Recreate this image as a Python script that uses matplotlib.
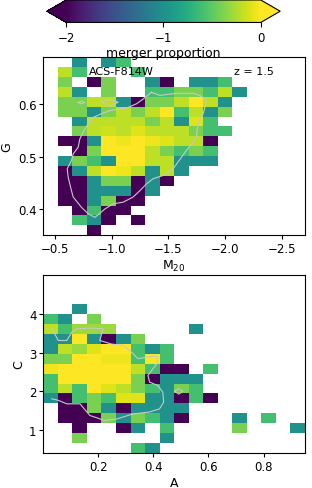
import numpy as np
import matplotlib
matplotlib.use("Agg")
import matplotlib.pyplot as plt

n = np.nan

# log10 merger proportion per cell, rows listed from top (high G / high C) to bottom
# top panel: G vs M20
m20_edges = np.linspace(-0.4, -2.7, 19)
g_edges = np.linspace(0.69, 0.35, 19)
gm20_vals = [
    [n, n, -1.0, n, -1.0, -0.6, n, n, n, n, n, n, n, n, n, n, n, n],
    [n, -0.2, -0.6, n, n, n, -0.6, n, n, n, n, n, n, n, n, n, n, n],
    [n, -0.4, n, -3, -0.4, n, n, -1.0, -3, n, -1.0, -1.0, -0.6, n, n, n, n, n],
    [n, -0.2, -1.0, n, -0.4, n, n, -0.6, -0.6, -0.4, -0.4, -0.6, -0.2, -1.0, n, n, n, n],
    [n, -0.4, -0.4, -0.2, -0.2, -1.0, -3, -0.4, -0.4, -0.2, 0.0, -0.2, -1.0, n, n, n, n, n],
    [n, -0.4, -0.4, -1.0, -0.4, -0.2, -0.4, -0.2, 0.0, -0.6, -0.2, -1.0, -0.4, n, n, n, n, n],
    [n, n, -1.0, -0.2, -0.2, -0.2, -0.2, -0.4, -0.2, -1.0, -0.1, -0.6, n, n, n, n, n, n],
    [n, n, -0.4, -0.2, -0.15, -0.2, -0.1, -0.2, -0.2, -0.2, -0.4, -0.6, -0.6, n, n, n, n, n],
    [n, -3, -3, -1.0, 0.0, -0.05, 0.0, -0.05, -0.1, -0.2, -0.2, -3, n, n, n, n, n, n],
    [n, n, -3, -0.4, 0.0, 0.0, 0.0, -0.2, -0.4, -0.6, -0.4, -0.6, n, n, n, n, n, n],
    [n, -1.0, -0.4, -0.6, -1.0, 0.0, 0.0, -0.2, -0.2, -1.0, -1.0, -1.0, n, n, n, n, n, n],
    [n, -3, -1.0, -0.2, 0.0, -0.05, -0.2, -1.0, -0.2, -1.0, n, n, n, n, n, n, n, n],
    [n, -3, -3, -1.0, -0.4, -0.4, -3, -1.0, -3, n, n, n, n, n, n, n, n, n],
    [n, -3, -3, -1.0, -1.0, -1.0, -3, -1.0, n, n, n, n, n, n, n, n, n, n],
    [n, -3, -3, -1.0, -0.4, -3, -3, n, n, n, n, n, n, n, n, n, n, n],
    [n, n, -3, -0.6, -3, -3, n, n, n, n, n, n, n, n, n, n, n, n],
    [n, n, -0.6, -1.0, -3, n, -3, n, n, n, n, n, n, n, n, n, n, n],
    [n, n, n, -3, n, n, n, n, n, n, n, n, n, n, n, n, n, n],
]

# bottom panel: C vs A
a_edges = np.linspace(0.0, 0.95, 19)
c_edges = np.linspace(5.0, 0.42, 19)
ca_vals = [
    [n] * 18,
    [n] * 18,
    [n] * 18,
    [n, n, -1.0, n, n, n, n, n, n, n, n, n, n, n, n, n, n, n],
    [-0.6, -1.0, n, -0.4, n, n, n, n, n, n, n, n, n, n, n, n, n, n],
    [-0.2, -0.6, -0.3, -0.3, -0.3, n, n, n, n, n, -1.0, n, n, n, n, n, n, n],
    [-1.0, -1.0, 0.0, -1.0, -3, -1.0, -0.4, n, n, n, n, n, n, n, n, n, n, n],
    [-1.0, -0.2, -0.3, -0.1, 0.0, 0.0, -0.6, -1.0, -0.6, n, n, n, n, n, n, n, n, n],
    [-0.4, -0.4, 0.0, 0.0, -0.05, -0.05, -0.6, 0.0, -0.6, n, n, n, n, n, n, n, n, n],
    [-0.05, 0.0, 0.0, 0.0, 0.0, 0.0, -0.2, -0.6, -3, -3, n, -0.6, n, n, n, n, n, n],
    [-0.6, 0.0, 0.0, 0.0, 0.0, 0.0, -0.4, -3, -1.0, -1.0, -1.0, n, n, n, n, n, n, n],
    [-0.6, -0.2, -0.6, 0.0, -0.1, -0.2, -0.4, -0.6, -1.0, -0.4, -0.6, n, n, n, n, n, n, n],
    [-1.0, -3, -0.6, -0.4, -0.6, -0.1, -0.1, -1.0, -1.0, -3, -0.6, -3, n, n, n, n, n, n],
    [n, -3, -3, -0.4, -1.0, -3, -1.0, -1.0, -1.0, -1.0, n, n, n, n, n, n, n, n],
    [n, -3, -3, -3, -0.4, -1.0, -0.4, -0.6, -1.0, -3, n, n, n, -1.0, n, -0.6, n, n],
    [n, n, -3, n, n, -3, -1.0, n, -0.6, n, n, n, n, -0.4, n, n, n, -1.0],
    [n, n, -0.4, n, n, n, n, n, -1.0, n, n, n, n, n, n, n, n, n],
    [n, n, n, n, n, n, -0.6, -1.0, n, n, n, n, n, n, n, n, n, n],
]

# density contours
gm20_cont_x = [-1.351, -1.425, -1.571, -1.718, -1.776, -1.835, -1.820, -1.806, -1.771, -1.753,
               -1.747, -1.703, -1.659, -1.615, -1.542, -1.454, -1.366, -1.307, -1.249, -1.190,
               -1.102, -1.014, -0.941, -0.853, -0.794, -0.736, -0.662, -0.639, -0.618, -0.610,
               -0.648, -0.662, -0.706, -0.721, -0.750, -0.794, -0.838, -0.912, -0.985, -1.073,
               -1.146, -1.219, -1.278, -1.351]
gm20_cont_y = [0.623, 0.617, 0.621, 0.621, 0.617, 0.607, 0.594, 0.582, 0.569, 0.553,
               0.537, 0.524, 0.512, 0.499, 0.477, 0.464, 0.458, 0.448, 0.435, 0.423,
               0.413, 0.410, 0.400, 0.384, 0.391, 0.403, 0.423, 0.442, 0.461, 0.477,
               0.493, 0.505, 0.518, 0.534, 0.547, 0.563, 0.575, 0.582, 0.588, 0.591,
               0.594, 0.601, 0.610, 0.623]
gm20_loop1_x = [-0.912, -0.985, -1.058, -0.985, -0.912]
gm20_loop1_y = [0.604, 0.610, 0.604, 0.596, 0.604]
gm20_loop2_x = [-0.706, -0.735, -0.765, -0.735, -0.706]
gm20_loop2_y = [0.6035, 0.606, 0.6035, 0.601, 0.6035]

ca_cont_x = [0.030, 0.054, 0.085, 0.103, 0.121, 0.169, 0.217, 0.205, 0.247, 0.290,
             0.320, 0.344, 0.374, 0.410, 0.416, 0.398, 0.380, 0.386, 0.416, 0.434,
             0.437, 0.422, 0.386, 0.326, 0.266, 0.223, 0.169, 0.133, 0.085, 0.054, 0.030]
ca_cont_y = [3.63, 3.31, 3.31, 3.52, 3.61, 3.63, 3.61, 3.31, 3.22, 3.18,
             3.01, 2.84, 2.88, 2.91, 2.75, 2.58, 2.41, 2.24, 2.15, 1.98,
             1.72, 1.55, 1.47, 1.42, 1.29, 1.25, 1.38, 1.68, 1.68, 1.77, 1.81]
ca_loop_x = [0.477, 0.492, 0.507, 0.492, 0.477]
ca_loop_y = [2.00, 2.07, 2.00, 1.93, 2.00]

cmap = plt.get_cmap("viridis").copy()
cmap.set_bad("white")
vmin, vmax = -2, 0
cont_kw = dict(color="#c8c8c8", lw=0.8)

fig = plt.figure(figsize=(3.12, 4.89), dpi=100)
ax1 = fig.add_axes([0.139, 0.517, 0.838, 0.364])
ax2 = fig.add_axes([0.139, 0.072, 0.838, 0.364])
cax = fig.add_axes([0.15, 0.952, 0.748, 0.046])

mesh = ax1.pcolormesh(m20_edges, g_edges, np.ma.masked_invalid(np.array(gm20_vals)),
                      cmap=cmap, vmin=vmin, vmax=vmax)
ax1.plot(gm20_cont_x, gm20_cont_y, **cont_kw)
ax1.plot(gm20_loop1_x, gm20_loop1_y, **cont_kw)
ax1.plot(gm20_loop2_x, gm20_loop2_y, **cont_kw)
ax1.set_xlim(-0.4, -2.7)
ax1.set_ylim(0.35, 0.69)
ax1.set_xticks([-0.5, -1.0, -1.5, -2.0, -2.5])
ax1.set_yticks([0.4, 0.5, 0.6])
ax1.set_xlabel(r"M$_{20}$", fontsize=9, labelpad=2)
ax1.set_ylabel("G", fontsize=9, labelpad=3)
ax1.text(0.175, 0.925, "ACS-F814W", transform=ax1.transAxes, fontsize=8, va="center")
ax1.text(0.73, 0.925, "z = 1.5", transform=ax1.transAxes, fontsize=8, va="center")

ax2.pcolormesh(a_edges, c_edges, np.ma.masked_invalid(np.array(ca_vals)),
               cmap=cmap, vmin=vmin, vmax=vmax)
ax2.plot(ca_cont_x, ca_cont_y, **cont_kw)
ax2.plot(ca_loop_x, ca_loop_y, **cont_kw)
ax2.set_xlim(0.0, 0.95)
ax2.set_ylim(0.42, 5.0)
ax2.set_xticks([0.2, 0.4, 0.6, 0.8])
ax2.set_yticks([1, 2, 3, 4])
ax2.set_xlabel("A", fontsize=9, labelpad=2)
ax2.set_ylabel("C", fontsize=9, labelpad=3)

for ax in (ax1, ax2):
    ax.tick_params(labelsize=8.5, length=3, width=0.8, pad=2)

cb = fig.colorbar(mesh, cax=cax, orientation="horizontal", extend="both", extendfrac=0.1)
cb.set_ticks([-2, -1, 0])
cb.ax.tick_params(labelsize=8.5, length=3.5, width=0.8, pad=3)
cb.set_label("merger proportion", fontsize=9, labelpad=1)

fig.savefig("out.png", dpi=100)
